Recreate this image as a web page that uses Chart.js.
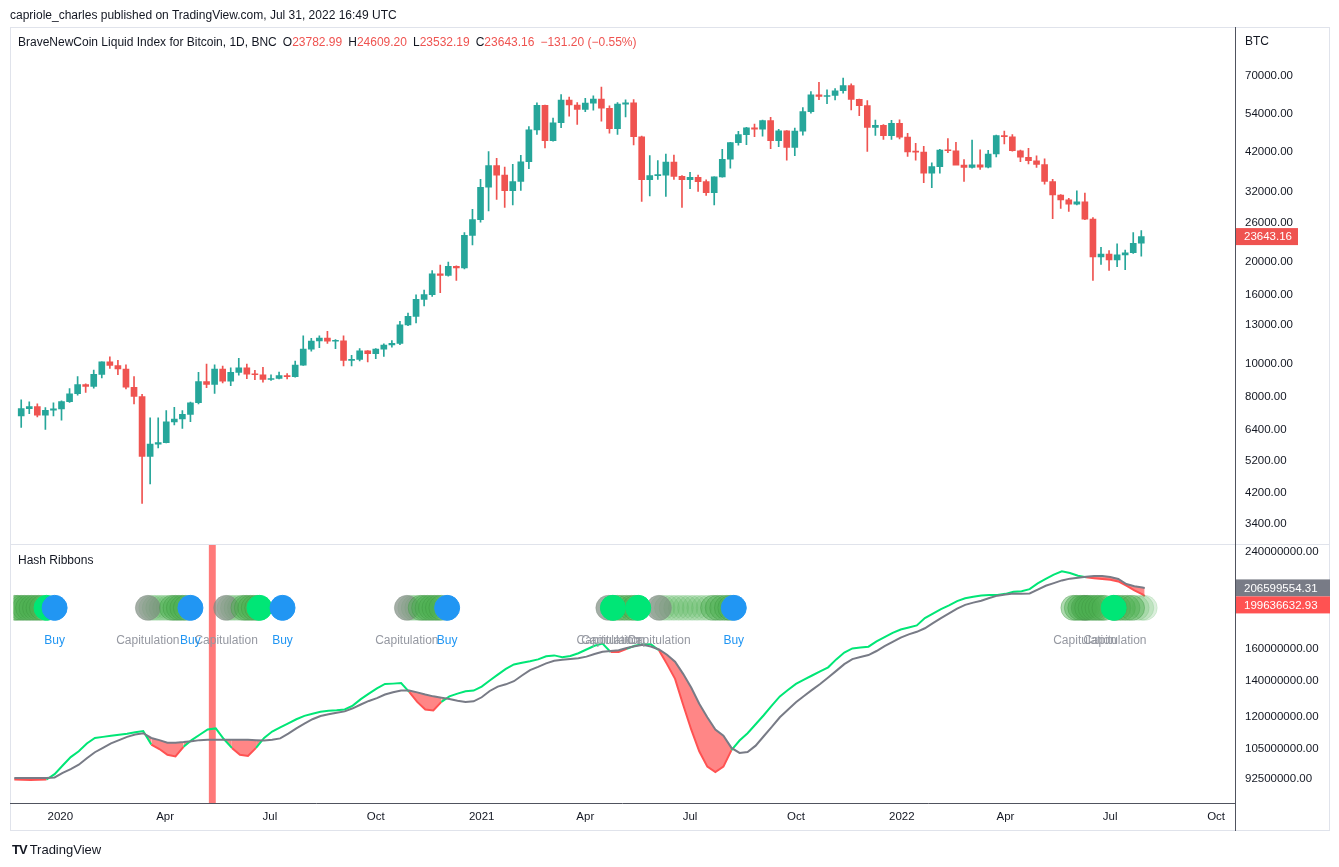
<!DOCTYPE html>
<html>
<head>
<meta charset="utf-8">
<title>BNC BLX Hash Ribbons</title>
<script src="https://cdn.jsdelivr.net/npm/chart.js@4.4.1/dist/chart.umd.min.js"></script>
<style>
  html, body { margin: 0; padding: 0; background: #fff; }
  body { width: 1339px; height: 867px; position: relative; overflow: hidden;
         font-family: "Liberation Sans", Arial, sans-serif; color: #131722; }
  #chart { position: absolute; left: 0; top: 0; }
  .txt { position: absolute; white-space: nowrap; font-size: 12px; line-height: 14px; }
  .red { color: #ef5350; }
  .gap { margin-left: 6px; }
  .logo { font-weight: bold; letter-spacing: -1px; margin-right: 3px; }
</style>
</head>
<body>
<canvas id="chart" width="1339" height="867"></canvas>
<div class="txt" style="left:10px;top:8px;">capriole_charles published on TradingView.com, Jul 31, 2022 16:49 UTC</div>
<div class="txt" style="left:18px;top:35px;">BraveNewCoin Liquid Index for Bitcoin, 1D, BNC<span class="gap">O</span><span class="red">23782.99</span><span class="gap">H</span><span class="red">24609.20</span><span class="gap">L</span><span class="red">23532.19</span><span class="gap">C</span><span class="red">23643.16</span><span class="red gap">−131.20 (−0.55%)</span></div>
<div class="txt" style="left:1245px;top:34px;">BTC</div>
<div class="txt" style="left:18px;top:553px;">Hash Ribbons</div>
<div class="txt" style="left:12px;top:843px;font-size:13px;"><span class="logo">TV</span>TradingView</div>

<script>
// ---- price data (weekly candles), weeks starting 2019-11-25
const weekStart = '2019-11-25';
const opens = [
  7050, 7400, 7500, 7080, 7320, 7390, 7760, 8180, 8700, 8600,
  9330, 10150, 9900, 9670, 8550, 8030, 5360, 5820, 5880, 6770,
  6900, 7120, 7700, 8880, 8720, 9670, 8900, 9450, 9750, 9340,
  9300, 9010, 9070, 9250, 9180, 9930, 11060, 11680, 11910, 11660,
  11700, 10250, 10320, 10930, 10730, 11060, 11370, 11500, 13030, 13800,
  15480, 15980, 18400, 18180, 19350, 19150, 23850, 26500, 33000, 38200,
  35800, 32250, 34300, 39200, 48600, 57400, 45200, 51000, 59400, 57500,
  55800, 58200, 59800, 56250, 49000, 57800, 58300, 46400, 34700, 35700,
  35800, 39100, 35500, 34700, 35300, 34250, 31800, 35400, 39850, 44600,
  47050, 49300, 48850, 51750, 45150, 48300, 43200, 48200, 54950, 61550,
  60900, 61300, 63300, 65500, 59700, 57250, 49400, 50100, 46700, 50800,
  46300, 41900, 41800, 36300, 37900, 42400, 42200, 38300, 37700, 38400,
  37800, 41300, 46800, 46400, 42200, 40400, 39450, 38470, 34300, 31300,
  30300, 29450, 29900, 26600, 20600, 21000, 20200, 20900, 21200, 22600
];
const highs = [
  7850, 7750, 7650, 7450, 7690, 7800, 8470, 9190, 8750, 9600,
  10150, 10500, 10250, 9950, 9190, 8150, 6950, 6950, 7300, 7470,
  7300, 7740, 9460, 9990, 9950, 9870, 9740, 10400, 10000, 9590,
  9780, 9290, 9470, 9380, 10200, 12100, 11900, 12100, 12480, 11800,
  12090, 10600, 11100, 10950, 11100, 11460, 11720, 13350, 14100, 15960,
  16480, 18800, 19500, 19900, 19420, 24300, 28400, 34800, 41950, 40100,
  37800, 38500, 40900, 49700, 58350, 57500, 52600, 61700, 60600, 58400,
  60100, 61200, 64850, 57200, 58400, 59500, 59600, 46600, 40850, 39500,
  41300, 41000, 35700, 36500, 35800, 34700, 35400, 42600, 44700, 48100,
  49400, 50500, 51900, 52900, 48800, 48400, 49200, 56500, 62900, 67000,
  63700, 64200, 69000, 66300, 59800, 59200, 51900, 50400, 51800, 52000,
  47500, 44400, 43500, 38900, 42600, 45800, 44700, 39800, 45400, 42500,
  42300, 46900, 48200, 47100, 42400, 42900, 40800, 40000, 34800, 31400,
  30600, 32200, 31700, 26900, 22000, 21500, 22500, 21600, 24280, 24609.2
];
const lows = [
  6520, 7150, 7000, 6430, 7050, 6850, 7720, 8100, 8250, 8500,
  9100, 9700, 9300, 8460, 7640, 3900, 4450, 5680, 5870, 6630,
  6470, 6780, 7640, 8520, 8200, 8800, 8640, 9270, 9060, 9000,
  8850, 8950, 9040, 9050, 9150, 9900, 10900, 11170, 11500, 11100,
  9880, 9870, 10220, 10150, 10370, 10530, 11200, 11400, 12950, 13200,
  14810, 15790, 16200, 18100, 17600, 19000, 22350, 26050, 28100, 30400,
  28800, 29300, 32300, 37400, 47100, 43000, 45000, 49300, 53300, 50400,
  55000, 55500, 51500, 47500, 47100, 53000, 43900, 30000, 31100, 34800,
  31000, 34800, 28800, 32700, 32100, 31200, 29300, 35300, 37500, 43800,
  43950, 46400, 46600, 42800, 43400, 39600, 40800, 46900, 54400, 59600,
  58000, 59500, 62300, 55600, 53500, 42000, 46800, 45600, 45600, 45700,
  40600, 39600, 34000, 32900, 36300, 41700, 39500, 34300, 37500, 37200,
  37600, 40500, 44200, 42100, 39200, 38600, 37700, 33700, 26700, 28600,
  28000, 29300, 26500, 17600, 19600, 18800, 19300, 18900, 21100, 20700
];
const closes = [
  7400, 7500, 7080, 7320, 7390, 7760, 8180, 8700, 8600, 9330,
  10150, 9900, 9670, 8550, 8030, 5360, 5820, 5880, 6770, 6900,
  7120, 7700, 8880, 8720, 9670, 8900, 9450, 9750, 9340, 9300,
  9010, 9070, 9250, 9180, 9930, 11060, 11680, 11910, 11660, 11700,
  10250, 10320, 10930, 10730, 11060, 11370, 11500, 13030, 13800, 15480,
  15980, 18400, 18180, 19350, 19150, 23850, 26500, 33000, 38200, 35800,
  32250, 34300, 39200, 48600, 57400, 45200, 51000, 59400, 57500, 55800,
  58200, 59800, 56250, 49000, 57800, 58300, 46400, 34700, 35700, 35800,
  39100, 35500, 34700, 35300, 34250, 31800, 35400, 39850, 44600, 47050,
  49300, 48850, 51750, 45150, 48300, 43200, 48200, 54950, 61550, 60900,
  61300, 63300, 65500, 59700, 57250, 49400, 50100, 46700, 50800, 46300,
  41900, 41800, 36300, 37900, 42400, 42200, 38300, 37700, 38400, 37800,
  41300, 46800, 46400, 42200, 40400, 39450, 38470, 34300, 31300, 30300,
  29450, 29900, 26600, 20600, 21000, 20200, 20900, 21200, 22600, 23643.16
];

// ---- hash ribbons (millions), one value per week from 2019-11-22, last = 2022-07-31
const hashStart = '2019-11-22';
const lastDate = '2022-07-31';
const hash30 = [
  92.4, 92.3, 92.2, 92.3, 92.4, 94.5, 98, 101.5, 104, 107.5,
  110, 110.5, 111, 111.5, 112, 112.7, 113.2, 107, 105, 102.5,
  101.8, 106, 109, 111.5, 114, 114.5, 109.5, 105.5, 102.5, 102,
  105.5, 110, 113, 115, 117, 119, 120.7, 121.8, 122.8, 123.3,
  123.6, 124, 126, 129.5, 132.5, 135.5, 138, 138.2, 138.5, 133.5,
  128, 124, 123.5, 128, 131, 132.5, 133.8, 134.2, 136.5, 140,
  143.5, 147, 149.8, 150.8, 151.8, 153, 155, 155.6, 154.4, 155.2,
  157, 159.5, 162, 163.5, 157.8, 157.8, 160, 162, 163, 163,
  159, 150, 141, 126.5, 114, 104, 97.5, 95.3, 97.5, 104.5,
  108.8, 112.2, 116.5, 121, 126, 131, 134.5, 138, 140.5, 143,
  145.5, 148, 153, 157.5, 160.2, 160.8, 161.4, 165, 168, 171,
  173.5, 175, 176.5, 182, 185.5, 189, 192, 195.5, 197.8, 199,
  200.2, 200.5, 200.5, 201.5, 203.3, 203.8, 205.5, 210.5, 214.5, 218.5,
  221.5, 220, 217.5, 216, 215.2, 214.5, 213.8, 212.3, 208.5, 204.5,
  201, 199.63663293
];
const hash60 = [
  93, 93, 93, 93, 93, 93.2, 95, 96.5, 98.3, 101,
  103.6, 105.5, 107.5, 109, 110.5, 111.6, 112.2, 110, 109, 107.8,
  107.8, 108.1, 108.5, 109, 109.2, 109.2, 109.2, 109.2, 109.2, 109.2,
  109, 108.8, 109.2, 109.8, 112, 114.5, 116.8, 119, 120.6, 121.5,
  122.3, 123, 124.6, 126.6, 128.5, 130, 132, 133.3, 134.3, 134.3,
  133.2, 132, 131, 130.3, 129.5, 128.6, 128, 128.3, 130.5, 134,
  136.5, 137.8, 139.6, 143, 146.3, 148.3, 150.5, 152.1, 152.8, 153.3,
  153.8, 154.8, 156.5, 158, 158.5, 159, 160.5, 161.7, 162.7, 161.5,
  159.5, 156, 151.5, 144, 136, 127, 120, 114, 111, 105.5,
  103.3, 103.7, 106.5, 110.8, 115.2, 120, 123.8, 127.8, 131.2, 134.6,
  138, 141.8, 145.8, 150, 153.2, 154.5, 155.8, 158.5, 161.7, 164.7,
  167.7, 170, 171.8, 174.4, 178.2, 182, 185.6, 189.4, 192.4, 194.2,
  195.8, 198, 200, 200.9, 201.9, 201.6, 201.8, 205.2, 208.5, 210.8,
  213.2, 214.8, 215.6, 216.5, 217.2, 217.2, 216.3, 214.5, 210, 208,
  207, 206.59955431
];

// ---- signal markers
const recoveryDark = [
  '2019-11-22', '2019-11-25', '2019-11-28', '2019-12-01', '2019-12-04', '2019-12-07', '2019-12-10', '2019-12-13', '2019-12-16',
  '2020-04-07', '2020-04-10', '2020-04-13', '2020-04-16', '2020-04-19',
  '2020-06-08', '2020-06-11', '2020-06-14', '2020-06-17', '2020-06-20',
  '2020-11-09', '2020-11-12', '2020-11-15', '2020-11-18', '2020-11-21', '2020-11-24', '2020-11-27',
  '2021-04-29', '2021-05-03', '2021-05-07', '2021-05-11', '2021-05-14',
  '2021-07-21', '2021-07-25', '2021-07-29', '2021-08-02', '2021-08-05',
  '2022-05-30', '2022-06-02', '2022-06-05', '2022-06-08', '2022-06-11', '2022-06-14', '2022-06-17', '2022-06-20', '2022-06-23', '2022-06-26',
  '2022-07-08', '2022-07-12', '2022-07-16', '2022-07-20'
];
const recoveryPale = [
  '2020-03-20', '2020-03-23', '2020-03-26', '2020-03-29', '2020-04-01', '2020-04-04',
  '2020-05-27', '2020-05-30', '2020-06-02', '2020-06-05',
  '2020-10-31', '2020-11-03', '2020-11-06',
  '2021-06-07', '2021-06-11', '2021-06-15', '2021-06-19', '2021-06-23', '2021-06-27',
  '2021-07-01', '2021-07-05', '2021-07-09', '2021-07-13', '2021-07-17',
  '2022-07-24', '2022-07-28', '2022-07-31'
];
const recoveryBright = ['2019-12-20', '2020-06-22', '2021-04-25', '2021-05-17', '2022-07-04'];
const capDates = ['2020-03-17', '2020-05-24', '2020-10-28', '2021-04-21', '2021-04-25', '2021-06-04', '2022-06-09', '2022-07-05'];
const buyDates = ['2019-12-27', '2020-04-23', '2020-07-12', '2020-12-02', '2021-08-08'];
const halvingBand = ['2020-05-09', '2020-05-15'];

// ---- axes
const tickDates = ['2020-01-01', '2020-04-01', '2020-07-01', '2020-10-01', '2021-01-01', '2021-04-01',
                   '2021-07-01', '2021-10-01', '2022-01-01', '2022-04-01', '2022-07-01', '2022-10-01'];
const tickLabels = ['2020', 'Apr', 'Jul', 'Oct', '2021', 'Apr', 'Jul', 'Oct', '2022', 'Apr', 'Jul', 'Oct'];
const priceTicks = [3400, 4200, 5200, 6400, 8000, 10000, 13000, 16000, 20000, 26000, 32000, 42000, 54000, 70000];
const hashTicks = [92500000, 105000000, 120000000, 140000000, 160000000, 240000000];

const DAY = 86400000;
const EPOCH = Date.UTC(2020, 0, 1);
const dayOf = s => (Date.parse(s + 'T00:00:00Z') - EPOCH) / DAY;

const GREEN = '#26a69a';
const RED = '#ef5350';
const FONT = '"Liberation Sans", Arial, sans-serif';
const dotLevel = 190e6;

const startDay = dayOf(weekStart);
const candleDays = opens.map((_, i) => startDay + 7 * i + 3);
const candleColor = opens.map((o, i) => closes[i] >= o ? GREEN : RED);

const hashStartDay = dayOf(hashStart);
const hashDays = hash30.map((_, i) => i < hash30.length - 1 ? hashStartDay + 7 * i : dayOf(lastDate));
const tickDays = tickDates.map(dayOf);

function markerSet(dates, fill, border, order) {
  return {
    type: 'line',
    data: dates.map(d => ({ x: dayOf(d), y: dotLevel })),
    yAxisID: 'y2',
    showLine: false,
    pointRadius: 12.5,
    pointHoverRadius: 12.5,
    pointBackgroundColor: fill,
    pointBorderColor: border,
    pointBorderWidth: 1,
    order: order,
    clip: 0
  };
}

// Draw frame, pane separators, halving band, signal labels and last-value tags
const overlay = {
  id: 'overlay',
  beforeDatasetsDraw(chart) {
    const ctx = chart.ctx;
    const x = chart.scales.x, y2 = chart.scales.y2;
    const x1 = x.getPixelForValue(dayOf(halvingBand[0]));
    const x2 = x.getPixelForValue(dayOf(halvingBand[1]));
    ctx.save();
    ctx.fillStyle = '#ff7a7a';
    ctx.fillRect(x1, y2.top, x2 - x1, y2.bottom - y2.top);
    ctx.restore();
  },
  afterDatasetsDraw(chart) {
    const ctx = chart.ctx;
    const x = chart.scales.x, y2 = chart.scales.y2;
    const area = chart.chartArea;
    const ly = y2.getPixelForValue(dotLevel) + 33;
    ctx.save();
    ctx.beginPath();
    ctx.rect(area.left, area.top, area.right - area.left, area.bottom - area.top);
    ctx.clip();
    ctx.font = '12px ' + FONT;
    ctx.textAlign = 'center';
    ctx.textBaseline = 'middle';
    ctx.fillStyle = '#9598a1';
    capDates.forEach(d => ctx.fillText('Capitulation', x.getPixelForValue(dayOf(d)), ly));
    ctx.fillStyle = '#2196f3';
    buyDates.forEach(d => ctx.fillText('Buy', x.getPixelForValue(dayOf(d)), ly));
    ctx.restore();
  },
  afterDraw(chart) {
    const ctx = chart.ctx;
    const area = chart.chartArea;
    const y = chart.scales.y, y2 = chart.scales.y2;
    ctx.save();
    // outer frame
    ctx.strokeStyle = '#e0e3eb';
    ctx.lineWidth = 1;
    ctx.strokeRect(10.5, 27.5, 1319, 803);
    // pane separator
    ctx.beginPath();
    ctx.moveTo(10, Math.round(y.bottom) + 0.5);
    ctx.lineTo(1330, Math.round(y.bottom) + 0.5);
    ctx.stroke();
    // axis lines
    ctx.strokeStyle = '#50535e';
    ctx.beginPath();
    ctx.moveTo(Math.round(area.right) + 0.5, 27);
    ctx.lineTo(Math.round(area.right) + 0.5, 831);
    ctx.moveTo(10, Math.round(area.bottom) + 0.5);
    ctx.lineTo(area.right, Math.round(area.bottom) + 0.5);
    ctx.stroke();

    // last value tags
    ctx.font = '11.5px ' + FONT;
    ctx.textBaseline = 'middle';
    ctx.textAlign = 'left';
    const lx = Math.round(area.right) + 1;
    const lastClose = closes[closes.length - 1];
    const py = y.getPixelForValue(lastClose);
    ctx.fillStyle = RED;
    ctx.fillRect(lx, py - 8.5, 62, 17);
    ctx.fillStyle = '#fff';
    ctx.fillText(lastClose.toFixed(2), lx + 8, py + 0.5);

    const v60 = hash60[hash60.length - 1] * 1e6;
    const v30 = hash30[hash30.length - 1] * 1e6;
    const ya = y2.getPixelForValue(v60);
    let yb = y2.getPixelForValue(v30);
    if (yb - ya < 17) yb = ya + 17;
    ctx.fillStyle = '#787b86';
    ctx.fillRect(lx, ya - 8.5, 1330 - lx, 17);
    ctx.fillStyle = '#ff5252';
    ctx.fillRect(lx, yb - 8.5, 1330 - lx, 17);
    ctx.fillStyle = '#fff';
    ctx.fillText(v60.toFixed(2), lx + 8, ya + 0.5);
    ctx.fillText(v30.toFixed(2), lx + 8, yb + 0.5);
    ctx.restore();
  }
};

const ribbonRed = '#ff5252';
const ribbonGreen = '#00e676';

const ctx = document.getElementById('chart').getContext('2d');
const chart = new Chart(ctx, {
  type: 'bar',
  data: {
    datasets: [
      // candle wicks
      {
        data: candleDays.map((d, i) => ({ x: d, y: [lows[i], highs[i]] })),
        yAxisID: 'y',
        backgroundColor: candleColor,
        barThickness: 1,
        grouped: false,
        order: 30
      },
      // candle bodies
      {
        data: candleDays.map((d, i) => ({ x: d, y: [Math.min(opens[i], closes[i]), Math.max(opens[i], closes[i])] })),
        yAxisID: 'y',
        backgroundColor: candleColor,
        barThickness: 6,
        minBarLength: 1,
        grouped: false,
        order: 29
      },
      // 30d hash rate
      {
        type: 'line',
        data: hashDays.map((d, i) => ({ x: d, y: hash30[i] * 1e6 })),
        yAxisID: 'y2',
        borderWidth: 2,
        pointRadius: 0,
        borderColor: ribbonGreen,
        segment: {
          borderColor: c => (hash30[c.p0DataIndex] < hash60[c.p0DataIndex] && hash30[c.p1DataIndex] < hash60[c.p1DataIndex]) ? ribbonRed : ribbonGreen
        },
        fill: { target: '+1', above: 'rgba(0,0,0,0)', below: 'rgba(255,82,82,0.7)' },
        order: 21
      },
      // 60d hash rate
      {
        type: 'line',
        data: hashDays.map((d, i) => ({ x: d, y: hash60[i] * 1e6 })),
        yAxisID: 'y2',
        borderWidth: 2,
        pointRadius: 0,
        borderColor: '#787b86',
        fill: false,
        order: 20
      },
      markerSet(recoveryPale, 'rgba(76,175,80,0.2)', 'rgba(76,175,80,0.15)', 6),
      markerSet(capDates, 'rgba(125,140,128,0.7)', 'rgba(125,140,128,0.4)', 5),
      markerSet(recoveryDark, 'rgba(76,175,80,0.45)', 'rgba(56,142,60,0.35)', 4),
      markerSet(recoveryBright, '#00e676', '#00e676', 3),
      markerSet(buyDates, '#2196f3', '#2196f3', 2)
    ]
  },
  options: {
    responsive: false,
    devicePixelRatio: 1,
    animation: false,
    events: [],
    layout: { padding: { left: 10, top: 27, right: 9, bottom: 37 } },
    plugins: {
      legend: { display: false },
      tooltip: { enabled: false }
    },
    scales: {
      y: {
        type: 'logarithmic',
        position: 'right',
        stack: 'panes',
        stackWeight: 2,
        min: 2960,
        max: 97340,
        grid: { display: false, drawTicks: false },
        border: { display: false },
        ticks: {
          padding: 10,
          color: '#131722',
          font: { family: FONT, size: 11.5 },
          callback: v => Number(v).toFixed(2)
        },
        afterBuildTicks: s => { s.ticks = priceTicks.map(v => ({ value: v })); },
        afterFit: s => { s.width = 95; }
      },
      y2: {
        type: 'logarithmic',
        position: 'right',
        stack: 'panes',
        stackWeight: 1,
        min: 83.7e6,
        max: 248.1e6,
        grid: { display: false, drawTicks: false },
        border: { display: false },
        ticks: {
          padding: 10,
          color: '#131722',
          font: { family: FONT, size: 11.5 },
          callback: v => Number(v).toFixed(2)
        },
        afterBuildTicks: s => { s.ticks = hashTicks.map(v => ({ value: v })); },
        afterFit: s => { s.width = 95; }
      },
      x: {
        type: 'linear',
        min: -40.7,
        max: 1020.4,
        offset: false,
        grid: { display: false, drawTicks: false },
        border: { display: false },
        ticks: {
          autoSkip: false,
          maxRotation: 0,
          padding: 7,
          color: '#131722',
          font: { family: FONT, size: 11.5 },
          callback: v => {
            const i = tickDays.indexOf(v);
            return i >= 0 ? tickLabels[i] : '';
          }
        },
        afterBuildTicks: s => { s.ticks = tickDays.map(v => ({ value: v })); },
        afterFit: s => { s.height = 27; }
      }
    }
  },
  plugins: [overlay]
});
</script>
</body>
</html>
